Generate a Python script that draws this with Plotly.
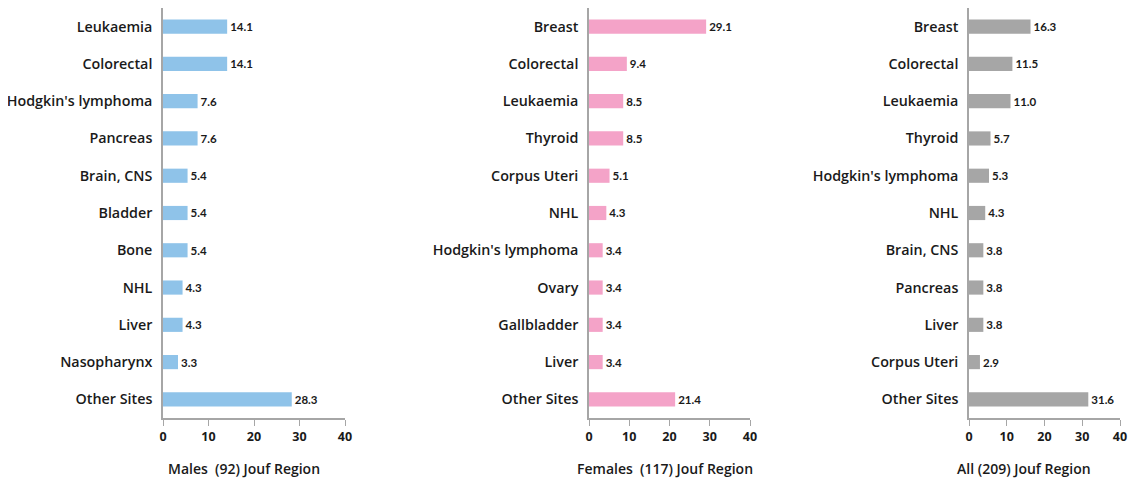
import plotly.graph_objects as go

# cancer sites and percentages
male_sites = ["Leukaemia", "Colorectal", "Hodgkin's lymphoma", "Pancreas", "Brain, CNS",
              "Bladder", "Bone", "NHL", "Liver", "Nasopharynx", "Other Sites"]
male_pct = [14.1, 14.1, 7.6, 7.6, 5.4, 5.4, 5.4, 4.3, 4.3, 3.3, 28.3]

female_sites = ["Breast", "Colorectal", "Leukaemia", "Thyroid", "Corpus Uteri", "NHL",
                "Hodgkin's lymphoma", "Ovary", "Gallbladder", "Liver", "Other Sites"]
female_pct = [29.1, 9.4, 8.5, 8.5, 5.1, 4.3, 3.4, 3.4, 3.4, 3.4, 21.4]

all_sites = ["Breast", "Colorectal", "Leukaemia", "Thyroid", "Hodgkin's lymphoma", "NHL",
             "Brain, CNS", "Pancreas", "Liver", "Corpus Uteri", "Other Sites"]
all_pct = [16.3, 11.5, 11.0, 5.7, 5.3, 4.3, 3.8, 3.8, 3.8, 2.9, 31.6]

x_ticks = [0, 10, 20, 30, 40]
panel_titles = ["Males  (92) Jouf Region", "Females  (117) Jouf Region", "All (209) Jouf Region"]

# the page body has an 8px margin, so the figure starts at (8, 8)
PAD = 8
W, H = 1137 - PAD, 479 - PAD


def px_x(p):
    return min(max((p - PAD) / W, 0), 1)


def px_y(p):
    return min(max(1 - (p - PAD) / H, 0), 1)


LABEL_FONT = dict(family="Open Sans", size=14.3, color="#1a1a1a", weight=600)
TICK_FONT = dict(family="Open Sans", size=12.5, color="#1a1a1a", weight=700)
VALUE_FONT = dict(family="Lato", size=13, color="#1a1a1a", weight=700)
AXIS_GREY = "#a6a6a6"

# right panel pulled in a little so its "40" label stays inside the visible page
panels = [
    (male_sites, male_pct, "#8fc3e9", (163, 345), 244),
    (female_sites, female_pct, "#f4a3c8", (589, 750), 665),
    (all_sites, all_pct, "#a6a6a6", (969, 1120), 1024),
]

fig = go.Figure()
for i, (sites, pct, color, (x0, x1), title_x) in enumerate(panels, start=1):
    suffix = "" if i == 1 else str(i)
    fig.add_trace(go.Bar(
        x=pct, y=sites, orientation="h", width=0.38,
        marker=dict(color=color, line=dict(width=0)),
        text=[f"{v:.1f}" for v in pct], textposition="outside",
        textfont=VALUE_FONT, cliponaxis=False,
        xaxis="x" + suffix, yaxis="y" + suffix, showlegend=False,
    ))
    fig.layout["xaxis" + suffix] = dict(
        domain=[px_x(x0), px_x(x1)], range=[0, 40], tickvals=x_ticks,
        showline=True, linecolor=AXIS_GREY, linewidth=1.5,
        ticks="outside", ticklen=6, tickcolor=AXIS_GREY, tickwidth=1,
        showgrid=False, zeroline=False, tickfont=TICK_FONT,
        ticklabeloverflow="allow",
        anchor="y" + suffix, automargin=False,
    )
    fig.layout["yaxis" + suffix] = dict(
        domain=[px_y(418), px_y(6)], autorange="reversed",
        categoryorder="array", categoryarray=sites,
        showline=True, linecolor=AXIS_GREY, linewidth=1.5,
        ticks="", showgrid=False, tickfont=LABEL_FONT,
        ticklabelstandoff=6, anchor="x" + suffix, automargin=False,
    )
    fig.add_annotation(
        text=panel_titles[i - 1], x=px_x(title_x), y=px_y(468),
        xref="paper", yref="paper", xanchor="center", yanchor="middle",
        showarrow=False,
        font=dict(family="Open Sans", size=14, color="#1a1a1a", weight=600),
    )

fig.update_layout(
    width=W, height=H, margin=dict(l=0, r=0, t=0, b=0, autoexpand=False),
    plot_bgcolor="white", paper_bgcolor="white", bargap=0.62,
)

fig.write_html("out.html")
